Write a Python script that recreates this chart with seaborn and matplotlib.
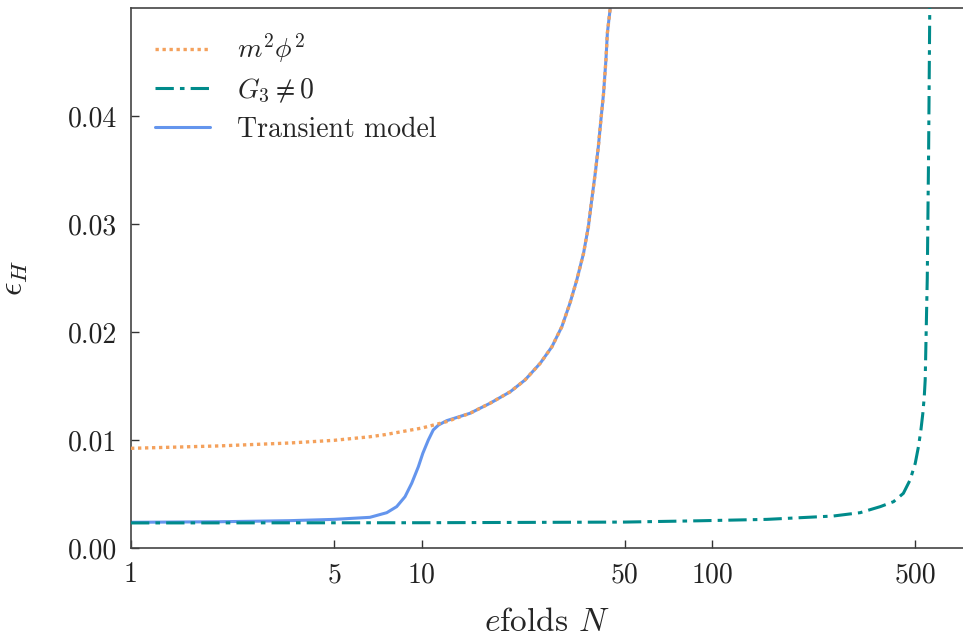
import matplotlib
matplotlib.use("Agg")
import matplotlib.pyplot as plt
import seaborn as sns
import pandas as pd
from matplotlib.ticker import FixedLocator, FixedFormatter, FormatStrFormatter, NullLocator

# ---- data ----
n_m2phi2 = [1, 2, 3.5, 5, 6.64, 7.5, 10, 12.2, 14.67, 17.2, 20.2, 22.7, 25.6, 28.1,
            30.4, 32.4, 34.2, 36.1, 37.5, 38.5, 39.6, 40.6, 41.4, 42.3, 43.1, 43.6,
            44.6, 45.3]
eps_m2phi2 = [0.00923, 0.00945, 0.00972, 0.00997, 0.0103, 0.0105, 0.0111, 0.0117,
              0.01247, 0.0134, 0.01447, 0.01556, 0.0171, 0.01864, 0.0205, 0.02266,
              0.0248, 0.0273, 0.02975, 0.0322, 0.0347, 0.0372, 0.0396, 0.0421,
              0.0452, 0.0477, 0.0500, 0.0550]

n_g3 = [1, 10, 50, 90, 154, 261, 323, 379, 421, 455, 480, 500, 513, 523, 531,
        537, 541, 550, 556, 561, 563]
eps_g3 = [0.00232, 0.00234, 0.00240, 0.00252, 0.00265, 0.00296, 0.00327, 0.00383,
          0.00429, 0.00506, 0.0063, 0.00784, 0.0094, 0.01093, 0.01247, 0.0140,
          0.01556, 0.025, 0.037, 0.050, 0.056]

n_trans = [1, 2, 3.5, 5, 6.64, 7.59, 8.21, 8.77, 9.25, 9.75, 10.1, 10.55, 10.97,
           11.44, 12.2, 14.67, 17.2, 20.2, 22.7, 25.6, 28.1, 30.4, 32.4, 34.2,
           36.1, 37.5, 38.5, 39.6, 40.6, 41.4, 42.3, 43.1, 43.6, 44.6, 45.3]
eps_trans = [0.00238, 0.00243, 0.00253, 0.00265, 0.00284, 0.00327, 0.00383, 0.00475,
             0.0060, 0.00753, 0.00877, 0.0100, 0.01093, 0.01139, 0.01179, 0.01247,
             0.0134, 0.01447, 0.01556, 0.0171, 0.01864, 0.0205, 0.02266, 0.0248,
             0.0273, 0.02975, 0.0322, 0.0347, 0.0372, 0.0396, 0.0421, 0.0452,
             0.0477, 0.0500, 0.0550]

labels = [r"$m^2\phi^2$", r"$G_3 \neq 0$", "Transient model"]
xtick_vals = [1, 5, 10, 50, 100, 500]
xtick_labels = ["1", "5", "10", "50", "100", "500"]
ytick_vals = [0.00, 0.01, 0.02, 0.03, 0.04]

# ---- style ----
sns.set_style("ticks")
plt.rcParams["font.family"] = ["serif"]
plt.rcParams["font.serif"] = ["cmr10", "DejaVu Serif"]
plt.rcParams["mathtext.fontset"] = "cm"
plt.rcParams["axes.formatter.use_mathtext"] = True
plt.rcParams["axes.unicode_minus"] = False

fig = plt.figure(figsize=(9.63, 6.39), dpi=100)
ax = fig.add_axes([131 / 963, (639 - 548) / 639, (963 - 131) / 963, 540 / 639])

df1 = pd.DataFrame({"N": n_m2phi2, "eps": eps_m2phi2})
df2 = pd.DataFrame({"N": n_g3, "eps": eps_g3})
df3 = pd.DataFrame({"N": n_trans, "eps": eps_trans})

sns.lineplot(data=df3, x="N", y="eps", ax=ax, color="cornflowerblue", lw=2.2,
             label=labels[2], estimator=None, zorder=2)
sns.lineplot(data=df1, x="N", y="eps", ax=ax, color="#f4a15c", lw=2.4,
             linestyle=(0, (1, 1.1)), label=labels[0], estimator=None, zorder=3)
sns.lineplot(data=df2, x="N", y="eps", ax=ax, color="#008b8b", lw=2.2,
             linestyle=(0, (6, 2, 1.5, 2)), label=labels[1], estimator=None, zorder=3)

ax.set_xscale("log")
ax.set_xlim(1, 730)
ax.set_ylim(0, 0.05)
ax.xaxis.set_major_locator(FixedLocator(xtick_vals))
ax.xaxis.set_major_formatter(FixedFormatter(xtick_labels))
ax.xaxis.set_minor_locator(NullLocator())
ax.set_yticks(ytick_vals)
ax.yaxis.set_major_formatter(FormatStrFormatter("%.2f"))

ax.tick_params(axis="both", which="major", direction="in", length=6, width=1,
               labelsize=20, pad=10, colors="#333333", labelcolor="#222222")
for s in ["left", "bottom", "top"]:
    ax.spines[s].set_color("#444444")
    ax.spines[s].set_linewidth(1.2)
ax.spines["right"].set_visible(False)

ax.set_xlabel(r"$e$folds $N$", fontsize=24, labelpad=14)
ax.set_ylabel(r"$\epsilon_H$", fontsize=24, labelpad=27)

handles, labs = ax.get_legend_handles_labels()
order = [labs.index(l) for l in labels]
ax.legend([handles[i] for i in order], [labs[i] for i in order], loc="upper left",
          frameon=False, fontsize=20, labelspacing=0.42, borderaxespad=0.45,
          handletextpad=0.95)

fig.savefig("out.png", dpi=100)
